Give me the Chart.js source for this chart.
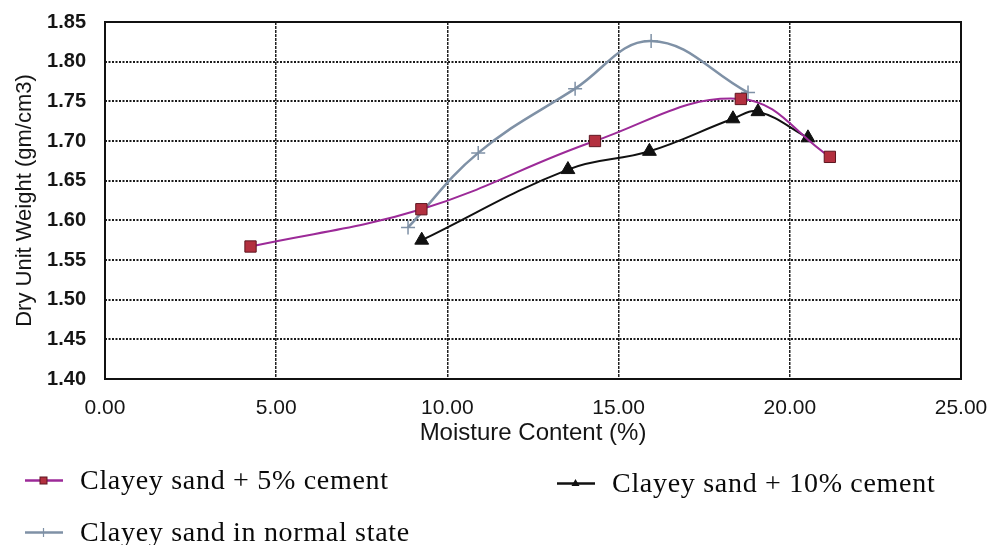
<!DOCTYPE html>
<html>
<head>
<meta charset="utf-8">
<title>Dry unit weight vs moisture content</title>
<script src="https://cdn.jsdelivr.net/npm/chart.js@4.4.1/dist/chart.umd.min.js"></script>
<style>
  html, body { margin: 0; padding: 0; background: #fff; }
  #wrap { position: relative; width: 992px; height: 545px; }
  .legend-item {
    position: absolute;
    display: flex;
    align-items: center;
    height: 34px;
    font-family: "Liberation Serif", "Times New Roman", serif;
    font-size: 28px;
    letter-spacing: 0.7px;
    color: #0a0a0a;
    white-space: nowrap;
  }
  .legend-item svg { margin-right: 17px; }
</style>
</head>
<body>
<div id="wrap">
  <canvas id="chart" width="992" height="545"></canvas>
  <div id="legend"></div>
</div>

<script>
// Moisture content (%) and dry unit weight (gm/cm3) per mix
const cement5Moisture   = [4.25, 9.24, 14.31, 18.57, 21.17];
const cement5Density    = [1.567, 1.614, 1.700, 1.753, 1.680];

const cement10Moisture  = [9.25, 13.52, 15.90, 18.34, 19.07, 20.53];
const cement10Density   = [1.575, 1.664, 1.687, 1.728, 1.737, 1.704];

const normalMoisture    = [8.85, 10.90, 13.73, 15.95, 18.78];
const normalDensity     = [1.591, 1.685, 1.766, 1.826, 1.761];

const seriesLabels = [
  'Clayey sand + 5% cement',
  'Clayey sand + 10% cement',
  'Clayey sand in normal state',
];

const xTickValues = [0, 5, 10, 15, 20, 25];
const yTickValues = [1.40, 1.45, 1.50, 1.55, 1.60, 1.65, 1.70, 1.75, 1.80, 1.85];

// ─── Helpers ──────────────────────────────────────────────────────

function toPoints(xs, ys) {
  return xs.map((x, i) => ({ x, y: ys[i] }));
}

// box around the plot area (top and right sides have no axis line)
const plotFrame = {
  id: 'plotFrame',
  beforeDatasetsDraw(chart) {
    const { ctx, chartArea: a } = chart;
    ctx.save();
    ctx.strokeStyle = '#111';
    ctx.lineWidth = 2;
    ctx.strokeRect(a.left, a.top, a.right - a.left, a.bottom - a.top);
    ctx.restore();
  },
};

const COLORS = {
  c5Line: '#9c2a98',
  c5Fill: '#b3303f',
  c5Edge: '#5e1620',
  c10: '#111111',
  normal: '#7f91a6',
};

// ─── Chart ────────────────────────────────────────────────────────

new Chart(document.getElementById('chart'), {
  type: 'scatter',
  data: {
    datasets: [
      {
        label: seriesLabels[0],
        data: toPoints(cement5Moisture, cement5Density),
        showLine: true,
        tension: 0.4,
        borderColor: COLORS.c5Line,
        borderWidth: 2,
        pointStyle: 'rect',
        pointRadius: 8,
        pointBackgroundColor: COLORS.c5Fill,
        pointBorderColor: COLORS.c5Edge,
        pointBorderWidth: 1,
      },
      {
        label: seriesLabels[1],
        data: toPoints(cement10Moisture, cement10Density),
        showLine: true,
        tension: 0.4,
        borderColor: COLORS.c10,
        borderWidth: 2,
        pointStyle: 'triangle',
        pointRadius: 8,
        pointBackgroundColor: COLORS.c10,
        pointBorderColor: COLORS.c10,
        pointBorderWidth: 1,
      },
      {
        label: seriesLabels[2],
        data: toPoints(normalMoisture, normalDensity),
        showLine: true,
        tension: 0.4,
        borderColor: COLORS.normal,
        borderWidth: 2.5,
        pointStyle: 'cross',
        pointRadius: 7,
        pointBorderColor: COLORS.normal,
        pointBorderWidth: 1.5,
      },
    ],
  },
  options: {
    responsive: false,
    animation: false,
    layout: { padding: { left: 0, top: 22, right: 31, bottom: 94 } },
    plugins: {
      legend: { display: false },
      tooltip: { enabled: false },
    },
    scales: {
      x: {
        type: 'linear',
        min: 0,
        max: 25,
        afterBuildTicks: (s) => { s.ticks = xTickValues.map((v) => ({ value: v })); },
        afterFit: (s) => {
          s.height = 72;
          // end labels may hang over the edge; keep the plot box fixed
          s.paddingLeft = 0;
          s.paddingRight = 0;
        },
        grid: { color: '#222', lineWidth: 1.5, drawTicks: false },
        border: { display: false, dash: [3, 1] },
        ticks: {
          padding: 17,
          color: '#151515',
          font: { family: 'Liberation Sans', size: 21 },
          callback: (v) => Number(v).toFixed(2),
        },
        title: {
          display: true,
          text: 'Moisture Content (%)',
          color: '#151515',
          padding: { top: 0, bottom: 3 },
          font: { family: 'Liberation Sans', size: 24 },
        },
      },
      y: {
        type: 'linear',
        min: 1.4,
        max: 1.85,
        afterBuildTicks: (s) => { s.ticks = yTickValues.map((v) => ({ value: v })); },
        afterFit: (s) => {
          s.width = 105;
          s.paddingTop = 0;
          s.paddingBottom = 0;
        },
        grid: { color: '#1a1a1a', lineWidth: 2, drawTicks: false },
        border: { display: false, dash: [2, 1.5] },
        ticks: {
          padding: 19,
          color: '#151515',
          font: { family: 'Liberation Sans', size: 20, weight: 'bold' },
          callback: (v) => Number(v).toFixed(2),
        },
        title: {
          display: true,
          text: 'Dry Unit Weight (gm/cm3)',
          color: '#151515',
          padding: { top: 12, bottom: 0 },
          font: { family: 'Liberation Sans', size: 22 },
        },
      },
    },
  },
  plugins: [plotFrame],
});

// ─── Legend (below the chart, two rows) ───────────────────────────

const legendItems = [
  { label: seriesLabels[0], line: COLORS.c5Line, marker: 'rect', left: 25, center: 480 },
  { label: seriesLabels[1], line: COLORS.c10, marker: 'triangle', left: 557, center: 483 },
  { label: seriesLabels[2], line: COLORS.normal, marker: 'cross', left: 25, center: 532 },
];

function markerSvg(item) {
  let shape = '';
  if (item.marker === 'rect') {
    shape = `<rect x="15" y="4" width="7" height="7" fill="${COLORS.c5Fill}" stroke="${COLORS.c5Edge}" stroke-width="1"/>`;
  } else if (item.marker === 'triangle') {
    shape = `<polygon points="18.5,3 22.5,10 14.5,10" fill="${COLORS.c10}"/>`;
  } else {
    shape = `<line x1="18.5" y1="3" x2="18.5" y2="12" stroke="${item.line}" stroke-width="1.2"/>`;
  }
  return `<svg width="38" height="15" viewBox="0 0 38 15">
    <line x1="0" y1="7.5" x2="38" y2="7.5" stroke="${item.line}" stroke-width="2.5"/>${shape}</svg>`;
}

document.getElementById('legend').innerHTML = legendItems.map((item) => `
  <div class="legend-item" style="left:${item.left}px;top:${item.center - 17}px">
    ${markerSvg(item)}<span>${item.label}</span>
  </div>`).join('');
</script>
</body>
</html>
